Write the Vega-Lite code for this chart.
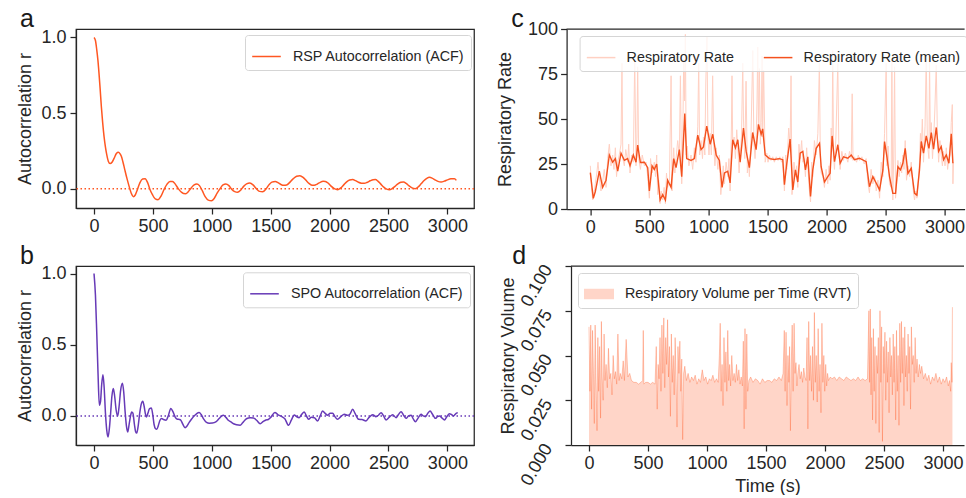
{
"$schema": "https://vega.github.io/schema/vega-lite/v6.json",
"padding": {"left": 15, "top": 6, "right": 0, "bottom": 0},
"background": "white",
"spacing": 7,
"resolve": {"scale": {"color": "independent"}, "legend": {"color": "independent"}},
"config": {
  "font": "Liberation Sans",
  "view": {"stroke": null},
  "title": {"font": "Liberation Sans", "fontSize": 25, "fontWeight": "normal", "anchor": "start", "frame": "bounds", "baseline": "alphabetic", "offset": 2, "color": "#1a1a1a"},
  "axis": {"labelFont": "Liberation Sans", "labelFontSize": 18, "labelColor": "#262626", "titleFont": "Liberation Sans", "titleFontSize": 18, "titleFontWeight": "normal", "titleColor": "#262626", "domainColor": "#262626", "domainWidth": 1.25, "tickColor": "#262626", "tickWidth": 1.25, "tickSize": 6, "labelPadding": 3, "titlePadding": 4, "grid": false, "labelOverlap": false, "labelFlush": false},
  "legend": {"labelFont": "Liberation Sans", "labelFontSize": 14.3, "labelColor": "#262626", "padding": 6, "strokeColor": "#d5d5d5", "fillColor": "rgba(255,255,255,0.8)", "cornerRadius": 3, "symbolStrokeWidth": 1.5, "labelOffset": 11, "symbolSize": 818, "labelLimit": 400}
},
"datasets": {
  "rsp": [
    {"t":0,"r":1.0},{"t":12,"r":0.98},{"t":23,"r":0.92},{"t":33,"r":0.85},{"t":42,"r":0.766},{"t":52,"r":0.66},{"t":62,"r":0.545},{"t":73,"r":0.44},{"t":85,"r":0.346},{"t":97,"r":0.275},{"t":108,"r":0.225},{"t":122,"r":0.18},{"t":136,"r":0.166},{"t":153,"r":0.175},{"t":170,"r":0.2},{"t":190,"r":0.232},{"t":207,"r":0.24},{"t":220,"r":0.232},{"t":232,"r":0.214},{"t":246,"r":0.175},{"t":261,"r":0.126},{"t":280,"r":0.066},{"t":298,"r":0.015},{"t":316,"r":-0.03},{"t":334,"r":-0.053},{"t":350,"r":-0.042},{"t":368,"r":-0.007},{"t":390,"r":0.04},{"t":412,"r":0.064},{"t":434,"r":0.066},{"t":455,"r":0.04},{"t":475,"r":-0.005},{"t":496,"r":-0.04},{"t":520,"r":-0.068},{"t":544,"r":-0.073},{"t":570,"r":-0.048},{"t":595,"r":-0.005},{"t":620,"r":0.03},{"t":645,"r":0.048},{"t":666,"r":0.048},{"t":690,"r":0.03},{"t":715,"r":0.0},{"t":740,"r":-0.022},{"t":760,"r":-0.032},{"t":779,"r":-0.033},{"t":800,"r":-0.02},{"t":825,"r":0.005},{"t":850,"r":0.025},{"t":873,"r":0.031},{"t":895,"r":0.02},{"t":920,"r":-0.015},{"t":945,"r":-0.055},{"t":970,"r":-0.076},{"t":997,"r":-0.08},{"t":1020,"r":-0.065},{"t":1045,"r":-0.03},{"t":1070,"r":0.0},{"t":1095,"r":0.025},{"t":1119,"r":0.031},{"t":1145,"r":0.02},{"t":1170,"r":-0.005},{"t":1195,"r":-0.02},{"t":1218,"r":-0.024},{"t":1245,"r":-0.01},{"t":1270,"r":0.015},{"t":1295,"r":0.032},{"t":1323,"r":0.037},{"t":1350,"r":0.025},{"t":1378,"r":0.0},{"t":1405,"r":-0.018},{"t":1431,"r":-0.02},{"t":1460,"r":-0.002},{"t":1485,"r":0.025},{"t":1510,"r":0.043},{"t":1539,"r":0.048},{"t":1565,"r":0.038},{"t":1590,"r":0.026},{"t":1610,"r":0.022},{"t":1635,"r":0.024},{"t":1660,"r":0.04},{"t":1690,"r":0.065},{"t":1720,"r":0.082},{"t":1748,"r":0.086},{"t":1775,"r":0.075},{"t":1800,"r":0.055},{"t":1825,"r":0.035},{"t":1850,"r":0.023},{"t":1870,"r":0.022},{"t":1895,"r":0.03},{"t":1920,"r":0.042},{"t":1945,"r":0.049},{"t":1964,"r":0.048},{"t":1990,"r":0.035},{"t":2015,"r":0.015},{"t":2040,"r":0.0},{"t":2068,"r":-0.007},{"t":2095,"r":0.005},{"t":2120,"r":0.025},{"t":2145,"r":0.045},{"t":2170,"r":0.057},{"t":2196,"r":0.06},{"t":2220,"r":0.053},{"t":2245,"r":0.042},{"t":2270,"r":0.036},{"t":2295,"r":0.035},{"t":2320,"r":0.042},{"t":2345,"r":0.052},{"t":2370,"r":0.059},{"t":2389,"r":0.06},{"t":2410,"r":0.05},{"t":2435,"r":0.03},{"t":2460,"r":0.01},{"t":2485,"r":-0.003},{"t":2508,"r":-0.007},{"t":2530,"r":0.0},{"t":2555,"r":0.015},{"t":2580,"r":0.032},{"t":2605,"r":0.042},{"t":2627,"r":0.044},{"t":2650,"r":0.035},{"t":2675,"r":0.018},{"t":2700,"r":0.005},{"t":2726,"r":0.0},{"t":2750,"r":0.01},{"t":2775,"r":0.03},{"t":2800,"r":0.052},{"t":2825,"r":0.068},{"t":2848,"r":0.075},{"t":2870,"r":0.07},{"t":2895,"r":0.058},{"t":2920,"r":0.048},{"t":2947,"r":0.044},{"t":2975,"r":0.05},{"t":3000,"r":0.058},{"t":3030,"r":0.065},{"t":3060,"r":0.066},{"t":3076,"r":0.055}
  ],
  "spo": [
    {"t":0,"r":1.0},{"t":12,"r":0.85},{"t":23,"r":0.59},{"t":34,"r":0.3},{"t":45,"r":0.075},{"t":55,"r":0.1},{"t":65,"r":0.22},{"t":76,"r":0.29},{"t":86,"r":0.2},{"t":97,"r":0.02},{"t":108,"r":-0.1},{"t":119,"r":-0.148},{"t":130,"r":-0.09},{"t":141,"r":0.02},{"t":152,"r":0.14},{"t":164,"r":0.193},{"t":175,"r":0.14},{"t":188,"r":0.04},{"t":201,"r":0.0},{"t":212,"r":0.06},{"t":226,"r":0.18},{"t":241,"r":0.23},{"t":252,"r":0.17},{"t":264,"r":0.03},{"t":275,"r":-0.07},{"t":286,"r":-0.113},{"t":298,"r":-0.06},{"t":310,"r":0.0},{"t":320,"r":0.028},{"t":330,"r":0.02},{"t":343,"r":-0.06},{"t":353,"r":-0.11},{"t":363,"r":-0.12},{"t":375,"r":-0.07},{"t":388,"r":0.02},{"t":400,"r":0.08},{"t":414,"r":0.104},{"t":425,"r":0.07},{"t":435,"r":0.02},{"t":445,"r":-0.007},{"t":458,"r":0.02},{"t":470,"r":0.05},{"t":487,"r":0.056},{"t":500,"r":0.0},{"t":510,"r":-0.06},{"t":522,"r":-0.09},{"t":533,"r":-0.094},{"t":545,"r":-0.07},{"t":560,"r":-0.03},{"t":575,"r":-0.018},{"t":590,"r":-0.025},{"t":612,"r":-0.03},{"t":630,"r":0.0},{"t":652,"r":0.052},{"t":670,"r":0.03},{"t":690,"r":-0.01},{"t":708,"r":-0.023},{"t":725,"r":-0.025},{"t":737,"r":-0.03},{"t":755,"r":-0.06},{"t":773,"r":-0.082},{"t":790,"r":-0.07},{"t":808,"r":-0.045},{"t":827,"r":-0.023},{"t":850,"r":0.0},{"t":870,"r":0.015},{"t":892,"r":0.024},{"t":910,"r":0.01},{"t":930,"r":-0.02},{"t":955,"r":-0.045},{"t":978,"r":-0.051},{"t":1005,"r":-0.05},{"t":1034,"r":-0.042},{"t":1060,"r":-0.02},{"t":1080,"r":-0.003},{"t":1099,"r":0.005},{"t":1120,"r":-0.01},{"t":1140,"r":-0.03},{"t":1162,"r":-0.042},{"t":1185,"r":-0.055},{"t":1210,"r":-0.062},{"t":1241,"r":-0.065},{"t":1260,"r":-0.05},{"t":1280,"r":-0.03},{"t":1298,"r":-0.018},{"t":1325,"r":-0.012},{"t":1354,"r":-0.014},{"t":1380,"r":-0.03},{"t":1411,"r":-0.054},{"t":1435,"r":-0.04},{"t":1459,"r":-0.028},{"t":1480,"r":-0.025},{"t":1500,"r":-0.01},{"t":1536,"r":0.024},{"t":1560,"r":0.01},{"t":1595,"r":-0.005},{"t":1620,"r":-0.02},{"t":1652,"r":-0.066},{"t":1675,"r":-0.03},{"t":1700,"r":0.007},{"t":1720,"r":-0.005},{"t":1742,"r":-0.012},{"t":1762,"r":0.01},{"t":1785,"r":0.028},{"t":1803,"r":0.0},{"t":1822,"r":-0.024},{"t":1845,"r":-0.01},{"t":1870,"r":-0.012},{"t":1898,"r":-0.035},{"t":1920,"r":0.0},{"t":1941,"r":0.035},{"t":1960,"r":0.02},{"t":1983,"r":0.005},{"t":2005,"r":0.019},{"t":2026,"r":0.019},{"t":2045,"r":-0.005},{"t":2068,"r":-0.024},{"t":2095,"r":-0.005},{"t":2125,"r":0.012},{"t":2150,"r":0.005},{"t":2170,"r":0.01},{"t":2196,"r":0.047},{"t":2215,"r":0.02},{"t":2247,"r":-0.024},{"t":2275,"r":-0.025},{"t":2309,"r":-0.035},{"t":2335,"r":-0.01},{"t":2366,"r":0.009},{"t":2394,"r":-0.005},{"t":2415,"r":0.005},{"t":2437,"r":0.023},{"t":2458,"r":0.0},{"t":2479,"r":-0.028},{"t":2505,"r":-0.01},{"t":2536,"r":0.009},{"t":2564,"r":-0.012},{"t":2585,"r":0.01},{"t":2607,"r":0.03},{"t":2628,"r":0.005},{"t":2650,"r":-0.017},{"t":2670,"r":0.0},{"t":2692,"r":0.005},{"t":2710,"r":-0.02},{"t":2729,"r":-0.04},{"t":2755,"r":-0.01},{"t":2777,"r":0.012},{"t":2795,"r":0.0},{"t":2814,"r":-0.005},{"t":2835,"r":0.02},{"t":2853,"r":0.035},{"t":2875,"r":0.01},{"t":2899,"r":-0.017},{"t":2915,"r":-0.005},{"t":2933,"r":0.0},{"t":2955,"r":-0.015},{"t":2975,"r":-0.028},{"t":2995,"r":-0.005},{"t":3018,"r":0.016},{"t":3035,"r":0.01},{"t":3052,"r":0.0},{"t":3070,"r":0.015},{"t":3088,"r":0.023}
  ],
  "rate_raw": [
    {"t":0,"v":24},{"t":10,"v":12},{"t":20,"v":5},{"t":30,"v":8},{"t":42,"v":14},{"t":55,"v":20},{"t":65,"v":26},{"t":76,"v":18},{"t":90,"v":10},{"t":104,"v":15},{"t":118,"v":22},{"t":133,"v":12},{"t":147,"v":28},{"t":161,"v":36},{"t":175,"v":24},{"t":189,"v":30},{"t":200,"v":22},{"t":212,"v":34},{"t":222,"v":18},{"t":232,"v":26},{"t":245,"v":30},{"t":260,"v":36},{"t":268,"v":81},{"t":275,"v":28},{"t":288,"v":24},{"t":300,"v":33},{"t":316,"v":26},{"t":325,"v":36},{"t":336,"v":20},{"t":350,"v":30},{"t":364,"v":26},{"t":376,"v":83},{"t":387,"v":24},{"t":395,"v":40},{"t":401,"v":79},{"t":410,"v":28},{"t":424,"v":22},{"t":440,"v":30},{"t":458,"v":24},{"t":472,"v":26},{"t":486,"v":18},{"t":500,"v":6},{"t":510,"v":28},{"t":523,"v":20},{"t":542,"v":26},{"t":552,"v":18},{"t":562,"v":30},{"t":570,"v":8},{"t":579,"v":16},{"t":591,"v":3},{"t":600,"v":10},{"t":613,"v":5},{"t":625,"v":12},{"t":636,"v":3},{"t":645,"v":20},{"t":655,"v":12},{"t":670,"v":16},{"t":684,"v":74},{"t":692,"v":10},{"t":706,"v":34},{"t":716,"v":20},{"t":726,"v":28},{"t":740,"v":38},{"t":754,"v":30},{"t":763,"v":74},{"t":774,"v":14},{"t":783,"v":40},{"t":791,"v":83},{"t":798,"v":60},{"t":805,"v":97},{"t":812,"v":30},{"t":820,"v":35},{"t":835,"v":24},{"t":853,"v":30},{"t":867,"v":22},{"t":881,"v":34},{"t":895,"v":26},{"t":910,"v":46},{"t":918,"v":81},{"t":926,"v":30},{"t":938,"v":38},{"t":950,"v":28},{"t":958,"v":40},{"t":970,"v":30},{"t":978,"v":70},{"t":988,"v":96},{"t":996,"v":40},{"t":1005,"v":30},{"t":1015,"v":42},{"t":1025,"v":30},{"t":1036,"v":74},{"t":1045,"v":36},{"t":1055,"v":24},{"t":1066,"v":34},{"t":1080,"v":22},{"t":1093,"v":30},{"t":1105,"v":8},{"t":1116,"v":16},{"t":1126,"v":24},{"t":1136,"v":14},{"t":1150,"v":26},{"t":1164,"v":18},{"t":1174,"v":28},{"t":1184,"v":10},{"t":1195,"v":45},{"t":1200,"v":74},{"t":1206,"v":35},{"t":1218,"v":40},{"t":1229,"v":28},{"t":1240,"v":44},{"t":1249,"v":34},{"t":1260,"v":20},{"t":1269,"v":30},{"t":1280,"v":40},{"t":1291,"v":81},{"t":1297,"v":50},{"t":1308,"v":28},{"t":1319,"v":71},{"t":1330,"v":20},{"t":1340,"v":27},{"t":1347,"v":18},{"t":1360,"v":38},{"t":1376,"v":88},{"t":1385,"v":38},{"t":1395,"v":28},{"t":1404,"v":38},{"t":1412,"v":60},{"t":1418,"v":90},{"t":1424,"v":44},{"t":1432,"v":78},{"t":1440,"v":36},{"t":1447,"v":48},{"t":1455,"v":85},{"t":1460,"v":40},{"t":1468,"v":77},{"t":1475,"v":50},{"t":1481,"v":26},{"t":1495,"v":31},{"t":1505,"v":26},{"t":1517,"v":30},{"t":1530,"v":27},{"t":1545,"v":29},{"t":1559,"v":26},{"t":1575,"v":29},{"t":1590,"v":27},{"t":1605,"v":29},{"t":1620,"v":26},{"t":1630,"v":29},{"t":1644,"v":10},{"t":1655,"v":30},{"t":1664,"v":22},{"t":1680,"v":45},{"t":1692,"v":35},{"t":1700,"v":74},{"t":1708,"v":8},{"t":1715,"v":14},{"t":1725,"v":26},{"t":1737,"v":18},{"t":1747,"v":24},{"t":1757,"v":12},{"t":1767,"v":36},{"t":1777,"v":28},{"t":1790,"v":38},{"t":1800,"v":26},{"t":1811,"v":28},{"t":1822,"v":18},{"t":1832,"v":34},{"t":1842,"v":24},{"t":1853,"v":12},{"t":1865,"v":4},{"t":1875,"v":26},{"t":1884,"v":18},{"t":1898,"v":38},{"t":1913,"v":30},{"t":1927,"v":42},{"t":1940,"v":81},{"t":1948,"v":30},{"t":1955,"v":20},{"t":1970,"v":18},{"t":1983,"v":12},{"t":1997,"v":22},{"t":2011,"v":14},{"t":2021,"v":24},{"t":2031,"v":16},{"t":2040,"v":45},{"t":2048,"v":36},{"t":2053,"v":88},{"t":2060,"v":30},{"t":2068,"v":22},{"t":2080,"v":40},{"t":2096,"v":81},{"t":2105,"v":32},{"t":2116,"v":22},{"t":2130,"v":32},{"t":2144,"v":27},{"t":2160,"v":31},{"t":2181,"v":26},{"t":2195,"v":32},{"t":2210,"v":28},{"t":2218,"v":64},{"t":2225,"v":27},{"t":2237,"v":29},{"t":2255,"v":26},{"t":2270,"v":30},{"t":2280,"v":27},{"t":2300,"v":29},{"t":2320,"v":25},{"t":2336,"v":28},{"t":2350,"v":15},{"t":2364,"v":9},{"t":2378,"v":22},{"t":2393,"v":14},{"t":2408,"v":18},{"t":2422,"v":10},{"t":2436,"v":16},{"t":2450,"v":6},{"t":2464,"v":26},{"t":2478,"v":18},{"t":2492,"v":42},{"t":2506,"v":81},{"t":2512,"v":24},{"t":2522,"v":35},{"t":2534,"v":14},{"t":2548,"v":12},{"t":2554,"v":83},{"t":2562,"v":5},{"t":2570,"v":30},{"t":2577,"v":79},{"t":2585,"v":6},{"t":2595,"v":14},{"t":2605,"v":27},{"t":2616,"v":18},{"t":2627,"v":26},{"t":2637,"v":20},{"t":2647,"v":30},{"t":2657,"v":22},{"t":2667,"v":38},{"t":2678,"v":16},{"t":2690,"v":24},{"t":2704,"v":18},{"t":2718,"v":26},{"t":2732,"v":12},{"t":2746,"v":5},{"t":2756,"v":10},{"t":2766,"v":6},{"t":2777,"v":14},{"t":2788,"v":26},{"t":2796,"v":42},{"t":2803,"v":34},{"t":2812,"v":50},{"t":2822,"v":26},{"t":2835,"v":46},{"t":2845,"v":85},{"t":2855,"v":36},{"t":2868,"v":28},{"t":2873,"v":83},{"t":2880,"v":38},{"t":2888,"v":48},{"t":2898,"v":28},{"t":2907,"v":38},{"t":2918,"v":55},{"t":2930,"v":80},{"t":2940,"v":40},{"t":2950,"v":26},{"t":2961,"v":38},{"t":2972,"v":30},{"t":2982,"v":24},{"t":2992,"v":32},{"t":3004,"v":24},{"t":3015,"v":34},{"t":3026,"v":22},{"t":3037,"v":28},{"t":3048,"v":30},{"t":3057,"v":48},{"t":3066,"v":58},{"t":3071,"v":14},{"t":3076,"v":26}
  ],
  "rate_mean": [
    {"t":0,"v":20.2},{"t":25,"v":5.9},{"t":42,"v":9.6},{"t":76,"v":21},{"t":104,"v":12},{"t":133,"v":16},{"t":161,"v":30},{"t":189,"v":26},{"t":212,"v":28},{"t":232,"v":21},{"t":260,"v":31},{"t":288,"v":27},{"t":316,"v":28},{"t":336,"v":24},{"t":364,"v":30},{"t":387,"v":26},{"t":401,"v":35.5},{"t":424,"v":25.8},{"t":458,"v":26},{"t":486,"v":23},{"t":500,"v":10},{"t":523,"v":24},{"t":542,"v":22},{"t":562,"v":25},{"t":579,"v":13},{"t":591,"v":5},{"t":613,"v":8},{"t":636,"v":5},{"t":655,"v":16},{"t":684,"v":12},{"t":706,"v":28},{"t":726,"v":23},{"t":754,"v":33},{"t":774,"v":18},{"t":800,"v":53},{"t":816,"v":28},{"t":853,"v":27},{"t":881,"v":28},{"t":910,"v":41},{"t":938,"v":33},{"t":958,"v":34.5},{"t":986,"v":46},{"t":1015,"v":36},{"t":1037,"v":41.5},{"t":1066,"v":30},{"t":1093,"v":27},{"t":1116,"v":12},{"t":1136,"v":20},{"t":1164,"v":21},{"t":1184,"v":14.5},{"t":1206,"v":38.5},{"t":1229,"v":34},{"t":1249,"v":38.5},{"t":1269,"v":26},{"t":1297,"v":45},{"t":1320,"v":32},{"t":1347,"v":23},{"t":1375,"v":42.5},{"t":1404,"v":33},{"t":1424,"v":47},{"t":1447,"v":41.5},{"t":1460,"v":44.5},{"t":1481,"v":30},{"t":1517,"v":28},{"t":1559,"v":27.5},{"t":1600,"v":28},{"t":1630,"v":27.4},{"t":1644,"v":13.5},{"t":1664,"v":25.4},{"t":1692,"v":38.8},{"t":1715,"v":10.6},{"t":1737,"v":21.7},{"t":1757,"v":15},{"t":1777,"v":31},{"t":1800,"v":32},{"t":1822,"v":21.7},{"t":1842,"v":29},{"t":1865,"v":7},{"t":1884,"v":21.7},{"t":1913,"v":33.7},{"t":1941,"v":36.5},{"t":1955,"v":23.5},{"t":1983,"v":15},{"t":2011,"v":18},{"t":2031,"v":19.8},{"t":2048,"v":40.6},{"t":2068,"v":26.3},{"t":2096,"v":35.7},{"t":2116,"v":25.4},{"t":2144,"v":29},{"t":2181,"v":28.2},{"t":2210,"v":30},{"t":2237,"v":27.4},{"t":2280,"v":28.2},{"t":2336,"v":26.3},{"t":2364,"v":12.4},{"t":2393,"v":18},{"t":2422,"v":14.3},{"t":2450,"v":10.6},{"t":2478,"v":21.7},{"t":2492,"v":37.5},{"t":2512,"v":29},{"t":2534,"v":18},{"t":2562,"v":8.7},{"t":2585,"v":8.7},{"t":2605,"v":23.5},{"t":2627,"v":21.7},{"t":2647,"v":25.4},{"t":2667,"v":33.7},{"t":2690,"v":19.8},{"t":2718,"v":22.6},{"t":2746,"v":8.7},{"t":2766,"v":7.7},{"t":2788,"v":21.7},{"t":2803,"v":37.5},{"t":2822,"v":31},{"t":2845,"v":40.6},{"t":2868,"v":33.7},{"t":2888,"v":42.5},{"t":2907,"v":33.2},{"t":2930,"v":45.3},{"t":2950,"v":32},{"t":2972,"v":34.7},{"t":2992,"v":27.4},{"t":3015,"v":30},{"t":3037,"v":25.4},{"t":3057,"v":41.8},{"t":3071,"v":25.4}
  ],
  "rvt": [
    {"t":0,"v":0.066},{"t":8,"v":0.03},{"t":15,"v":0.067},{"t":22,"v":0.02},{"t":30,"v":0.064},{"t":38,"v":0.04},{"t":45,"v":0.012},{"t":52,"v":0.067},{"t":60,"v":0.035},{"t":68,"v":0.008},{"t":75,"v":0.06},{"t":82,"v":0.03},{"t":90,"v":0.055},{"t":98,"v":0.015},{"t":105,"v":0.069},{"t":112,"v":0.038},{"t":120,"v":0.025},{"t":128,"v":0.062},{"t":136,"v":0.036},{"t":145,"v":0.045},{"t":155,"v":0.032},{"t":165,"v":0.054},{"t":175,"v":0.037},{"t":185,"v":0.04},{"t":195,"v":0.028},{"t":205,"v":0.05},{"t":215,"v":0.037},{"t":225,"v":0.041},{"t":235,"v":0.034},{"t":245,"v":0.062},{"t":255,"v":0.036},{"t":265,"v":0.04},{"t":278,"v":0.037},{"t":290,"v":0.047},{"t":300,"v":0.036},{"t":315,"v":0.059},{"t":330,"v":0.038},{"t":345,"v":0.04},{"t":360,"v":0.036},{"t":380,"v":0.035},{"t":400,"v":0.035},{"t":420,"v":0.034},{"t":440,"v":0.035},{"t":455,"v":0.036},{"t":460,"v":0.064},{"t":465,"v":0.034},{"t":480,"v":0.035},{"t":500,"v":0.035},{"t":520,"v":0.034},{"t":540,"v":0.035},{"t":560,"v":0.034},{"t":570,"v":0.055},{"t":578,"v":0.02},{"t":586,"v":0.045},{"t":594,"v":0.037},{"t":602,"v":0.06},{"t":610,"v":0.03},{"t":618,"v":0.067},{"t":626,"v":0.04},{"t":634,"v":0.071},{"t":642,"v":0.032},{"t":650,"v":0.06},{"t":658,"v":0.045},{"t":666,"v":0.07},{"t":674,"v":0.038},{"t":682,"v":0.055},{"t":690,"v":0.016},{"t":698,"v":0.062},{"t":706,"v":0.035},{"t":714,"v":0.05},{"t":722,"v":0.028},{"t":730,"v":0.06},{"t":738,"v":0.038},{"t":746,"v":0.01},{"t":754,"v":0.055},{"t":762,"v":0.04},{"t":770,"v":0.058},{"t":778,"v":0.03},{"t":786,"v":0.048},{"t":794,"v":0.003},{"t":802,"v":0.04},{"t":812,"v":0.044},{"t":825,"v":0.036},{"t":840,"v":0.04},{"t":855,"v":0.035},{"t":870,"v":0.038},{"t":885,"v":0.036},{"t":900,"v":0.039},{"t":915,"v":0.034},{"t":930,"v":0.037},{"t":945,"v":0.035},{"t":960,"v":0.042},{"t":975,"v":0.036},{"t":990,"v":0.038},{"t":1005,"v":0.034},{"t":1020,"v":0.037},{"t":1035,"v":0.036},{"t":1050,"v":0.039},{"t":1065,"v":0.035},{"t":1080,"v":0.037},{"t":1095,"v":0.035},{"t":1105,"v":0.05},{"t":1112,"v":0.068},{"t":1120,"v":0.03},{"t":1128,"v":0.045},{"t":1136,"v":0.022},{"t":1144,"v":0.06},{"t":1152,"v":0.035},{"t":1160,"v":0.052},{"t":1168,"v":0.03},{"t":1176,"v":0.064},{"t":1184,"v":0.036},{"t":1192,"v":0.045},{"t":1200,"v":0.033},{"t":1210,"v":0.05},{"t":1220,"v":0.036},{"t":1230,"v":0.04},{"t":1240,"v":0.035},{"t":1250,"v":0.045},{"t":1260,"v":0.036},{"t":1270,"v":0.042},{"t":1280,"v":0.034},{"t":1290,"v":0.038},{"t":1300,"v":0.033},{"t":1308,"v":0.058},{"t":1315,"v":0.009},{"t":1322,"v":0.065},{"t":1330,"v":0.02},{"t":1337,"v":0.062},{"t":1345,"v":0.03},{"t":1355,"v":0.036},{"t":1370,"v":0.038},{"t":1390,"v":0.035},{"t":1410,"v":0.037},{"t":1430,"v":0.036},{"t":1450,"v":0.034},{"t":1470,"v":0.037},{"t":1490,"v":0.035},{"t":1510,"v":0.036},{"t":1530,"v":0.036},{"t":1550,"v":0.035},{"t":1570,"v":0.037},{"t":1590,"v":0.036},{"t":1610,"v":0.038},{"t":1630,"v":0.036},{"t":1645,"v":0.04},{"t":1655,"v":0.064},{"t":1662,"v":0.03},{"t":1670,"v":0.063},{"t":1678,"v":0.022},{"t":1686,"v":0.05},{"t":1694,"v":0.035},{"t":1700,"v":0.055},{"t":1707,"v":0.008},{"t":1714,"v":0.045},{"t":1722,"v":0.067},{"t":1730,"v":0.03},{"t":1738,"v":0.068},{"t":1746,"v":0.04},{"t":1754,"v":0.046},{"t":1762,"v":0.033},{"t":1770,"v":0.04},{"t":1780,"v":0.045},{"t":1790,"v":0.037},{"t":1800,"v":0.041},{"t":1810,"v":0.035},{"t":1820,"v":0.043},{"t":1830,"v":0.038},{"t":1840,"v":0.036},{"t":1848,"v":0.06},{"t":1855,"v":0.009},{"t":1862,"v":0.069},{"t":1870,"v":0.036},{"t":1878,"v":0.05},{"t":1886,"v":0.03},{"t":1894,"v":0.055},{"t":1902,"v":0.025},{"t":1910,"v":0.074},{"t":1918,"v":0.035},{"t":1926,"v":0.05},{"t":1934,"v":0.024},{"t":1942,"v":0.065},{"t":1950,"v":0.03},{"t":1958,"v":0.045},{"t":1966,"v":0.018},{"t":1974,"v":0.068},{"t":1982,"v":0.035},{"t":1990,"v":0.05},{"t":1998,"v":0.03},{"t":2006,"v":0.045},{"t":2014,"v":0.033},{"t":2022,"v":0.04},{"t":2030,"v":0.036},{"t":2045,"v":0.038},{"t":2060,"v":0.037},{"t":2080,"v":0.038},{"t":2100,"v":0.036},{"t":2120,"v":0.038},{"t":2140,"v":0.037},{"t":2160,"v":0.036},{"t":2180,"v":0.038},{"t":2200,"v":0.037},{"t":2220,"v":0.036},{"t":2240,"v":0.037},{"t":2260,"v":0.036},{"t":2280,"v":0.038},{"t":2300,"v":0.036},{"t":2320,"v":0.037},{"t":2340,"v":0.036},{"t":2360,"v":0.037},{"t":2372,"v":0.075},{"t":2378,"v":0.035},{"t":2384,"v":0.076},{"t":2390,"v":0.028},{"t":2396,"v":0.06},{"t":2403,"v":0.014},{"t":2410,"v":0.065},{"t":2417,"v":0.03},{"t":2424,"v":0.055},{"t":2431,"v":0.012},{"t":2438,"v":0.05},{"t":2445,"v":0.04},{"t":2452,"v":0.06},{"t":2459,"v":0.007},{"t":2466,"v":0.075},{"t":2473,"v":0.035},{"t":2480,"v":0.066},{"t":2487,"v":0.002},{"t":2494,"v":0.055},{"t":2501,"v":0.04},{"t":2508,"v":0.063},{"t":2515,"v":0.025},{"t":2522,"v":0.058},{"t":2529,"v":0.035},{"t":2536,"v":0.052},{"t":2543,"v":0.018},{"t":2550,"v":0.06},{"t":2557,"v":0.038},{"t":2564,"v":0.05},{"t":2571,"v":0.028},{"t":2578,"v":0.062},{"t":2585,"v":0.035},{"t":2592,"v":0.055},{"t":2599,"v":0.014},{"t":2606,"v":0.064},{"t":2613,"v":0.03},{"t":2620,"v":0.05},{"t":2627,"v":0.011},{"t":2634,"v":0.068},{"t":2641,"v":0.035},{"t":2648,"v":0.069},{"t":2655,"v":0.04},{"t":2662,"v":0.06},{"t":2669,"v":0.022},{"t":2676,"v":0.066},{"t":2683,"v":0.038},{"t":2690,"v":0.05},{"t":2697,"v":0.03},{"t":2704,"v":0.062},{"t":2711,"v":0.04},{"t":2718,"v":0.055},{"t":2725,"v":0.02},{"t":2732,"v":0.066},{"t":2740,"v":0.045},{"t":2748,"v":0.05},{"t":2756,"v":0.035},{"t":2764,"v":0.06},{"t":2772,"v":0.04},{"t":2780,"v":0.048},{"t":2790,"v":0.038},{"t":2800,"v":0.045},{"t":2810,"v":0.04},{"t":2820,"v":0.044},{"t":2835,"v":0.037},{"t":2850,"v":0.04},{"t":2865,"v":0.036},{"t":2880,"v":0.039},{"t":2895,"v":0.034},{"t":2910,"v":0.038},{"t":2925,"v":0.036},{"t":2940,"v":0.04},{"t":2955,"v":0.035},{"t":2970,"v":0.038},{"t":2985,"v":0.034},{"t":3000,"v":0.037},{"t":3015,"v":0.035},{"t":3030,"v":0.038},{"t":3045,"v":0.033},{"t":3055,"v":0.036},{"t":3065,"v":0.03},{"t":3070,"v":0.046},{"t":3076,"v":0.035},{"t":3080,"v":0.077}
  ]
},
"vconcat": [
  {
    "spacing": 20.6,
    "resolve": {"scale": {"color": "independent"}, "legend": {"color": "independent"}},
    "hconcat": [
      {
        "title": {"text": "a", "dx": 3.5, "offset": -3.5},
        "width": 398, "height": 179,
        "view": {"stroke": "#262626", "strokeWidth": 1.25},
        "layer": [
          {
            "data": {"name": "rsp"},
            "mark": {"type": "line", "strokeWidth": 1.5, "interpolate": "monotone"},
            "encoding": {
              "x": {"field": "t", "type": "quantitative", "scale": {"domain": [-153, 3226], "nice": false, "zero": false}, "axis": {"values": [0,500,1000,1500,2000,2500,3000], "format": "d", "title": null}},
              "y": {"field": "r", "type": "quantitative", "scale": {"domain": [-0.128, 1.056], "nice": false, "zero": false}, "axis": {"values": [0, 0.5, 1], "format": ".1f", "title": "Autocorrelation r", "labelPadding": 4, "titlePadding": 6.5}},
              "color": {"datum": "RSP Autocorrelation (ACF)", "scale": {"domain": ["RSP Autocorrelation (ACF)"], "range": ["#FF5722"]}, "legend": {"title": null, "orient": "none", "legendX": 169, "legendY": 6, "symbolType": "stroke"}}
            }
          },
          {
            "data": {"values": [{}]},
            "mark": {"type": "rule", "color": "#FF5722", "strokeWidth": 1.5, "strokeDash": [1.5, 2.5]},
            "encoding": {"y": {"datum": 0}}
          }
        ]
      },
      {
        "title": {"text": "c", "dx": 14.4, "offset": -11.5},
        "width": 398, "height": 180,
        "layer": [
          {
            "data": {"name": "rate_raw"},
            "mark": {"type": "line", "strokeWidth": 1},
            "encoding": {
              "x": {"field": "t", "type": "quantitative", "scale": {"domain": [-201, 3170], "nice": false, "zero": false}, "axis": {"values": [0,500,1000,1500,2000,2500,3000], "format": "d", "title": null}},
              "y": {"field": "v", "type": "quantitative", "scale": {"domain": [0, 100], "nice": false}, "axis": {"values": [0,25,50,75,100], "title": "Respiratory Rate", "titlePadding": 12.7}},
              "color": {"datum": "Respiratory Rate", "scale": {"domain": ["Respiratory Rate", "Respiratory Rate (mean)"], "range": ["#FFD0C2", "#F4511E"]}, "legend": {"title": null, "orient": "none", "legendX": 13, "legendY": 7, "direction": "horizontal", "columnPadding": 26, "labelOffset": 10, "symbolType": "stroke"}}
            }
          },
          {
            "data": {"name": "rate_mean"},
            "mark": {"type": "line", "strokeWidth": 1.4},
            "encoding": {
              "x": {"field": "t", "type": "quantitative"},
              "y": {"field": "v", "type": "quantitative"},
              "color": {"datum": "Respiratory Rate (mean)"}
            }
          },
          {
            "data": {"values": [{}]},
            "mark": {"type": "rule", "color": "#262626", "strokeWidth": 1.25},
            "encoding": {"y": {"datum": 100}}
          }
        ]
      }
    ]
  },
  {
    "spacing": 23,
    "resolve": {"scale": {"color": "independent"}, "legend": {"color": "independent"}},
    "hconcat": [
      {
        "title": {"text": "b", "dx": 3.5, "offset": -4.5},
        "width": 398, "height": 179,
        "view": {"stroke": "#262626", "strokeWidth": 1.25},
        "layer": [
          {
            "data": {"name": "spo"},
            "mark": {"type": "line", "strokeWidth": 1.5, "interpolate": "monotone"},
            "encoding": {
              "x": {"field": "t", "type": "quantitative", "scale": {"domain": [-153, 3226], "nice": false, "zero": false}, "axis": {"values": [0,500,1000,1500,2000,2500,3000], "format": "d", "title": null}},
              "y": {"field": "r", "type": "quantitative", "scale": {"domain": [-0.204, 1.053], "nice": false, "zero": false}, "axis": {"values": [0, 0.5, 1], "format": ".1f", "title": "Autocorrelation r", "labelPadding": 4, "titlePadding": 6.5}},
              "color": {"datum": "SPO Autocorrelation (ACF)", "scale": {"domain": ["SPO Autocorrelation (ACF)"], "range": ["#673AB7"]}, "legend": {"title": null, "orient": "none", "legendX": 167, "legendY": 6.3, "symbolType": "stroke"}}
            }
          },
          {
            "data": {"values": [{}]},
            "mark": {"type": "rule", "color": "#673AB7", "strokeWidth": 1.5, "strokeDash": [1.5, 2.5]},
            "encoding": {"y": {"datum": 0}}
          }
        ]
      },
      {
        "title": {"text": "d", "dx": 13, "offset": -7.5},
        "width": 393, "height": 179,
        "layer": [
          {
            "data": {"name": "rvt"},
            "mark": {"type": "area", "interpolate": "linear"},
            "encoding": {
              "x": {"field": "t", "type": "quantitative", "scale": {"domain": [-152.5, 3178], "nice": false, "zero": false}, "axis": {"values": [0,500,1000,1500,2000,2500,3000], "format": "d", "title": "Time (s)", "titlePadding": 5}},
              "y": {"field": "v", "type": "quantitative", "scale": {"domain": [0, 0.1], "nice": false}, "axis": {"values": [0,0.025,0.05,0.075,0.1], "format": ".3f", "title": "Respiratory Volume", "labelAngle": -60, "labelAlign": "right", "labelBaseline": "middle", "labelPadding": 17, "titlePadding": 0.5}},
              "color": {"datum": "Respiratory Volume per Time (RVT)", "scale": {"domain": ["Respiratory Volume per Time (RVT)"], "range": ["#FFD5C8"]}, "legend": {"title": null, "orient": "top-left", "offset": 7, "symbolType": "M-1,-0.35H1V0.35H-1Z", "symbolSize": 900, "symbolStrokeWidth": 0}}
            }
          },
          {
            "data": {"name": "rvt"},
            "mark": {"type": "line", "color": "#FF5722", "opacity": 0.4, "strokeWidth": 0.8},
            "encoding": {
              "x": {"field": "t", "type": "quantitative"},
              "y": {"field": "v", "type": "quantitative"}
            }
          },
          {
            "data": {"values": [{}]},
            "mark": {"type": "rule", "color": "#262626", "strokeWidth": 1.25},
            "encoding": {"y": {"datum": 0.1}}
          }
        ]
      }
    ]
  }
]
}
